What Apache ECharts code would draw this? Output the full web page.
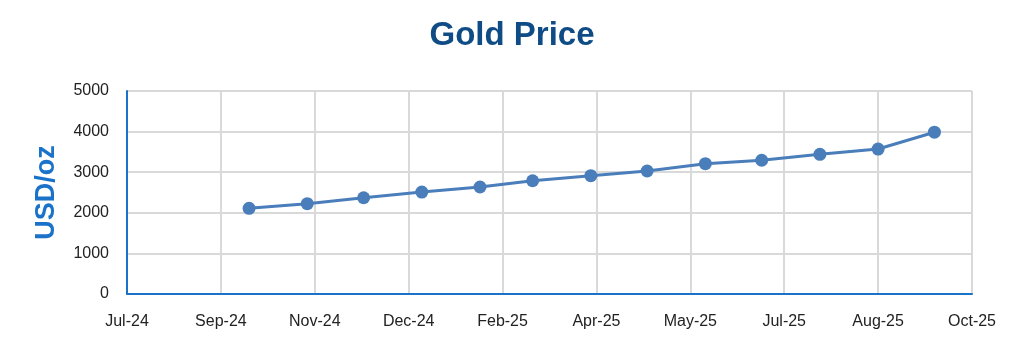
<!DOCTYPE html>
<html>
<head>
<meta charset="utf-8">
<script src="https://cdn.jsdelivr.net/npm/echarts@6/dist/echarts.min.js"></script>
<style>html,body{margin:0;padding:0;background:#fff;}#c{width:1024px;height:361px;}</style>
</head>
<body>
<div id="c"></div>
<script>
// Data (month-end observations)
const dates = ['2024-09-30','2024-10-31','2024-11-30','2024-12-31','2025-01-31','2025-02-28','2025-03-31','2025-04-30','2025-05-31','2025-06-30','2025-07-31','2025-08-31','2025-09-30'];
const prices = [2110, 2225, 2370, 2510, 2635, 2790, 2915, 3030, 3210, 3295, 3440, 3570, 3985];
// X axis: days since axis start, ticks every 50 days
const axisStart = '2024-07-27';
const xTickLabels = ['Jul-24','Sep-24','Nov-24','Dec-24','Feb-25','Apr-25','May-25','Jul-25','Aug-25','Oct-25'];
const xStep = 50;
const yTicks = [0,1000,2000,3000,4000,5000];

const DAY = 86400000;
const t0 = Date.parse(axisStart + 'T00:00:00Z');
const seriesData = dates.map((d, i) => [Math.round((Date.parse(d + 'T00:00:00Z') - t0) / DAY), prices[i]]);

const chart = echarts.init(document.getElementById('c'));
chart.setOption({
  animation: false,
  backgroundColor: '#fff',
  title: {
    text: 'Gold Price', left: 'center', top: 14,
    textStyle: { fontFamily: 'Liberation Sans', fontWeight: 'bold', fontSize: 33, color: '#0f4c86' }
  },
  grid: { left: 127, right: 52, top: 91, bottom: 67, containLabel: false },
  xAxis: {
    type: 'value', min: 0, max: xStep * (xTickLabels.length - 1), interval: xStep,
    axisLine: { show: true, onZero: false, lineStyle: { color: '#1a72c9', width: 2 } },
    axisTick: { show: false },
    splitLine: { show: true, lineStyle: { color: '#d9d9d9', width: 2 } },
    axisLabel: {
      margin: 20, fontFamily: 'Liberation Sans', fontSize: 16, color: '#222',
      formatter: v => xTickLabels[Math.round(v / xStep)] || ''
    }
  },
  yAxis: {
    type: 'value', min: yTicks[0], max: yTicks[yTicks.length - 1], interval: 1000,
    name: 'USD/oz', nameLocation: 'middle', nameGap: 67, nameRotate: 90,
    nameTextStyle: { fontFamily: 'Liberation Sans', fontWeight: 'bold', fontSize: 27, color: '#1a72c9' },
    axisLine: { show: true, lineStyle: { color: '#1a72c9', width: 2 } },
    axisTick: { show: false },
    splitLine: { show: true, lineStyle: { color: '#d9d9d9', width: 2 } },
    axisLabel: { margin: 18, fontFamily: 'Liberation Sans', fontSize: 16, color: '#222', formatter: v => String(v) }
  },
  series: [{
    type: 'line', data: seriesData,
    symbol: 'circle', symbolSize: 13,
    lineStyle: { color: '#4a7ebb', width: 3 },
    itemStyle: { color: '#4a7ebb' }
  }]
});
</script>
</body>
</html>
